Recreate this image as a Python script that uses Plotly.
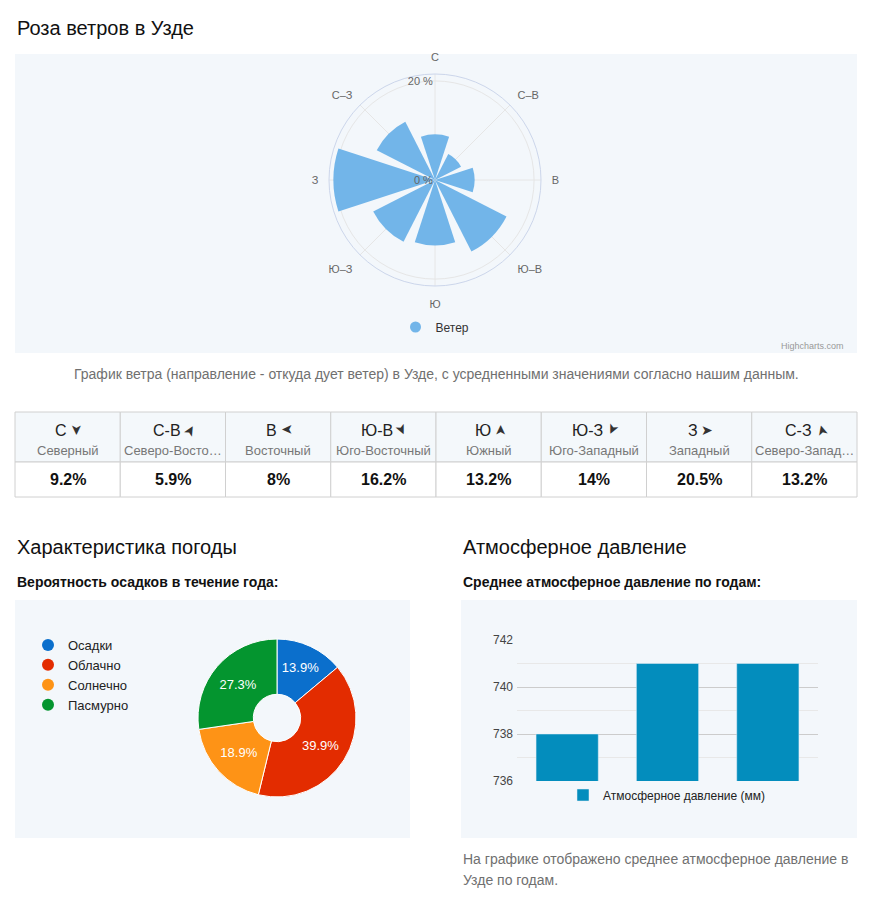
import plotly.graph_objects as go

W, H = 889, 909
FONT = "Liberation Sans, Arial, sans-serif"
PANEL = "#f3f7fb"


def fx(x):
    return x / W


def fy(y):
    return 1 - y / H


# wind rose / table data
DIRECTIONS = ["С", "С-В", "В", "Ю-В", "Ю", "Ю-З", "З", "С-З"]
DIRECTION_NAMES = ["Северный", "Северо-Восточный", "Восточный", "Юго-Восточный",
                   "Южный", "Юго-Западный", "Западный", "Северо-Западный"]
WIND_PCT = [9.2, 5.9, 8, 16.2, 13.2, 14, 20.5, 13.2]
ARROW_ANGLES = [90, -60, 180, 65, -90, 115, 0, -105]

# weather pie data
WEATHER_LABELS = ["Осадки", "Облачно", "Солнечно", "Пасмурно"]
WEATHER_PCT = [13.9, 39.9, 18.9, 27.3]
WEATHER_COLORS = ["#0b6fcc", "#e32c00", "#fe9316", "#04952f"]

# pressure data (year labels are not shown on the chart)
PRESSURE_YEARS = ["2019", "2020", "2021"]
PRESSURE_MM = [738, 741, 741]

fig = go.Figure()

# ---- wind rose
fig.add_trace(go.Barpolar(
    r=WIND_PCT, theta=[d.replace("-", "–") for d in DIRECTIONS],
    marker=dict(color="#72b5e9", line=dict(width=0)),
    name="Ветер", showlegend=False, hoverinfo="r+theta"))
fig.add_trace(go.Scatterpolar(
    r=[None], theta=[None], mode="markers", name="Ветер",
    marker=dict(symbol="circle", size=11, color="#72b5e9"), legend="legend"))

# ---- weather pie
fig.add_trace(go.Pie(
    labels=WEATHER_LABELS, values=WEATHER_PCT, hole=0.3, sort=False,
    direction="clockwise", rotation=0,
    marker=dict(colors=WEATHER_COLORS, line=dict(color="white", width=1)),
    texttemplate="%{value}%", textposition="inside", insidetextorientation="horizontal",
    textfont=dict(family=FONT, size=13, color="white"),
    domain=dict(x=[fx(198), fx(356)], y=[fy(797), fy(639)]),
    showlegend=False))
for lab, col in zip(WEATHER_LABELS, WEATHER_COLORS):
    fig.add_trace(go.Scatter(x=[None], y=[None], mode="markers", name=lab,
                             marker=dict(symbol="circle", size=12, color=col),
                             legend="legend2"))

# ---- pressure bars
fig.add_trace(go.Bar(x=PRESSURE_YEARS, y=PRESSURE_MM, name="Атмосферное давление (мм)",
                     marker_color="#038dbd", legend="legend3"))

shapes = []
annotations = []


def text(x, y, s, size=14, color="#222", anchor="left", **kw):
    annotations.append(dict(x=fx(x), y=fy(y), xref="paper", yref="paper", text=s,
                            showarrow=False, xanchor=anchor, yanchor="middle",
                            font=dict(family=FONT, size=size, color=color), **kw))


def rect(x0, y0, x1, y1, fill, line=None):
    shapes.append(dict(type="rect", xref="paper", yref="paper", layer="below",
                       x0=fx(x0), x1=fx(x1), y0=fy(y1), y1=fy(y0), fillcolor=fill,
                       line=dict(color=line or fill, width=1 if line else 0)))


# panels
rect(15, 54, 857, 353, PANEL)
rect(15, 600, 410, 838, PANEL)
rect(461, 600, 857, 838, PANEL)

# headings
text(15, 28, "Роза ветров в Узде", 20, "#111")
text(812, 346, "Highcharts.com", 9, "#999", anchor="center")
text(436, 374, "График ветра (направление - откуда дует ветер) в Узде, "
     "с усредненными значениями согласно нашим данным.", 14, "#707070", anchor="center")
text(15, 547, "Характеристика погоды", 20, "#111")
text(15, 582, "<b>Вероятность осадков в течение года:</b>", 14, "#111")
text(461, 547, "Атмосферное давление", 20, "#111")
text(461, 582, "<b>Среднее атмосферное давление по годам:</b>", 14, "#111")
text(461, 859, "На графике отображено среднее атмосферное давление в", 14, "#707070")
text(461, 880, "Узде по годам.", 14, "#707070")

# wind table
CHAR_W = {"С": 11.6, "В": 10.7, "Ю": 15.1, "З": 9.6, "-": 5.3}
col_w = (857 - 15) / len(DIRECTIONS)
for i, (d, nm, v, ang) in enumerate(zip(DIRECTIONS, DIRECTION_NAMES, WIND_PCT, ARROW_ANGLES)):
    x0 = 15 + i * col_w
    x1 = x0 + col_w
    cx = (x0 + x1) / 2
    rect(x0, 412, x1, 462, "#f4f8fb", "#d0d0d0")
    rect(x0, 462, x1, 497, "white", "#d0d0d0")
    w = sum(CHAR_W.get(c, 10) for c in d)
    left = cx - (w + 17) / 2
    text(left, 430, d, 16, "#222")
    text(left + w + 12, 430, "➤", 14, "#333", anchor="center", textangle=ang)
    short = nm if len(nm) <= 13 else nm[:12] + "…"
    text(cx, 450, short, 13, "#777", anchor="center")
    text(cx, 480, f"<b>{v:g}%</b>", 16, "#111", anchor="center")

fig.update_layout(
    width=W, height=H, autosize=False,
    margin=dict(l=0, r=0, t=0, b=0, autoexpand=False),
    paper_bgcolor="white", plot_bgcolor="rgba(0,0,0,0)",
    font=dict(family=FONT, size=12, color="#333"),
    shapes=shapes, annotations=annotations,
    polar=dict(
        domain=dict(x=[fx(329), fx(541)], y=[fy(286), fy(74)]),
        bgcolor="rgba(0,0,0,0)", bargap=0.2,
        angularaxis=dict(direction="clockwise", rotation=90,
                         showline=True, linecolor="#ccd6eb", linewidth=1,
                         gridcolor="#e6e6e6", ticks="outside", ticklen=8,
                         tickcolor="rgba(0,0,0,0)",
                         tickfont=dict(family=FONT, size=11, color="#666")),
        radialaxis=dict(range=[0, 21.4], tickvals=[0, 20], ticktext=["0 %", "20 %"],
                        angle=90, tickangle=90, side="counterclockwise", showline=False,
                        gridcolor="#e6e6e6", ticks="",
                        tickfont=dict(family=FONT, size=11, color="#666"))),
    xaxis=dict(domain=[fx(517), fx(818)], showticklabels=False, showgrid=False,
               zeroline=False, showline=False),
    yaxis=dict(domain=[fy(781), fy(640)], range=[736, 742], tick0=736, dtick=2,
               gridcolor="#cccccc", zeroline=False, showline=False,
               tickfont=dict(family=FONT, size=12, color="#444"), ticklabelstandoff=3,
               minor=dict(dtick=1, showgrid=True, gridcolor="#e8e8e8")),
    bargap=0.38,
    legend=dict(x=fx(435), y=fy(327), xanchor="center", yanchor="middle",
                orientation="h", bgcolor="rgba(0,0,0,0)",
                font=dict(family=FONT, size=12, color="#333")),
    legend2=dict(x=fx(28), y=fy(630), xanchor="left", yanchor="top",
                 bgcolor="rgba(0,0,0,0)", tracegroupgap=0,
                 font=dict(family=FONT, size=13, color="#222")),
    legend3=dict(x=fx(563), y=fy(795), xanchor="left", yanchor="middle",
                 orientation="h", bgcolor="rgba(0,0,0,0)",
                 font=dict(family=FONT, size=12, color="#222")),
)

fig.write_html("out.html", config={"displayModeBar": False},
               post_script="document.body.style.margin = '0px';")
